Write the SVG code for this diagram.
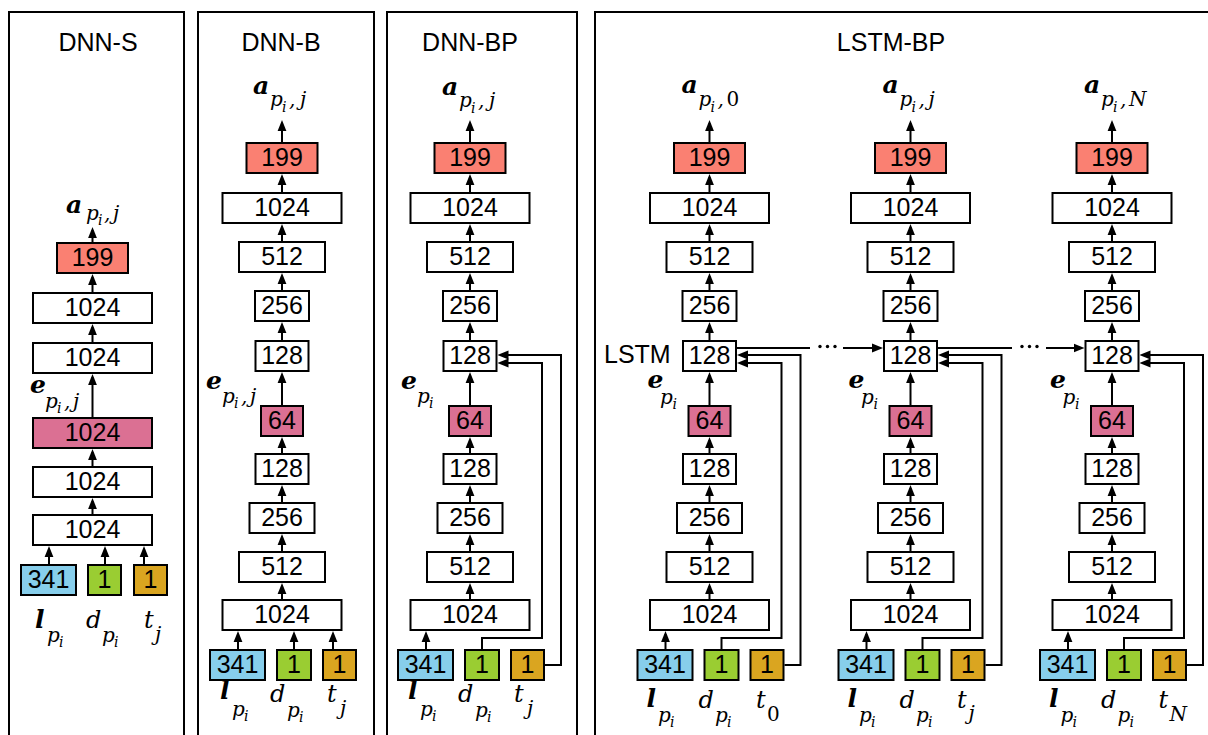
<svg xmlns="http://www.w3.org/2000/svg" width="1208" height="735" viewBox="0 0 1208 735">
  <defs>
    <style>
      .panel { fill: none; stroke: #000; stroke-width: 2; }
      .title { font-family: "Liberation Sans", Arial, sans-serif; font-size: 25px; text-anchor: middle; fill: #000; }
      .box { stroke: #000; stroke-width: 2; fill: #fff; }
      .red { fill: #fa8072; }
      .pink { fill: #db7093; }
      .blue { fill: #87ceeb; }
      .green { fill: #9acd32; }
      .gold { fill: #daa520; }
      .num { font-family: "Liberation Sans", Arial, sans-serif; font-size: 25px; text-anchor: middle; fill: #000; }
      .side { font-family: "Liberation Sans", Arial, sans-serif; font-size: 25px; fill: #000; }
      .wire { fill: none; stroke: #000; stroke-width: 2; }
      .arr { fill: none; stroke: #000; stroke-width: 2; marker-end: url(#ah); }
      .m { font-family: "DejaVu Serif", "Liberation Serif", serif; font-style: italic; fill: #000; }
      .mb { font-size: 25px; font-weight: bold; }
      .mm { font-size: 24px; }
      .ms { font-size: 20px; }
      .mss { font-size: 14px; }
      .up { font-style: normal; }
    </style>
    <marker id="ah" markerUnits="userSpaceOnUse" markerWidth="11" markerHeight="10" viewBox="0 0 11 10" refX="8" refY="5" orient="auto">
      <path d="M0,0.6 L11,5 L0,9.4 z" fill="#000"/>
    </marker>
  </defs>
  <rect width="1208" height="735" fill="#fff"/>

  <!-- panel frames and titles -->
  <g id="panels">
    <rect class="panel" x="9" y="12" width="175" height="760"/>
    <rect class="panel" x="198" y="12" width="176" height="760"/>
    <rect class="panel" x="387" y="12" width="190" height="760"/>
    <rect class="panel" x="595" y="12" width="700" height="760"/>
    <text class="title" x="98" y="51">DNN-S</text>
    <text class="title" x="281" y="51">DNN-B</text>
    <text class="title" x="470" y="51">DNN-BP</text>
    <text class="title" x="891" y="51">LSTM-BP</text>
    <text class="side" x="604" y="363">LSTM</text>
  </g>

  <!-- ============ nodes ============ -->
  <g id="nodes">
    <!-- DNN-S -->
    <g transform="translate(92.5 0)">
      <g id="s-out"><rect class="box red" x="-35.5" y="243" width="71" height="30"/><text class="num" x="0" y="266">199</text></g>
      <g id="s-h1"><rect class="box" x="-59.5" y="293" width="119" height="30"/><text class="num" x="0" y="316">1024</text></g>
      <g id="s-h2"><rect class="box" x="-59.5" y="343" width="119" height="30"/><text class="num" x="0" y="366">1024</text></g>
      <g id="s-emb"><rect class="box pink" x="-59.5" y="418" width="119" height="30"/><text class="num" x="0" y="441">1024</text></g>
      <g id="s-h3"><rect class="box" x="-59.5" y="467" width="119" height="30"/><text class="num" x="0" y="490">1024</text></g>
      <g id="s-h4"><rect class="box" x="-59.5" y="515" width="119" height="30"/><text class="num" x="0" y="538">1024</text></g>
      <g id="s-in-l"><rect class="box blue" x="-71.5" y="565" width="55" height="30"/><text class="num" x="-44" y="588">341</text></g>
      <g id="s-in-d"><rect class="box green" x="-4.5" y="565" width="33" height="30"/><text class="num" x="12" y="588">1</text></g>
      <g id="s-in-t"><rect class="box gold" x="41.5" y="565" width="33" height="30"/><text class="num" x="58" y="588">1</text></g>
    </g>

    <!-- DNN-B -->
    <g transform="translate(282 0)">
      <g id="b-out"><rect class="box red" x="-35.5" y="143" width="71" height="30"/><text class="num" x="0" y="166">199</text></g>
      <g id="b-h1"><rect class="box" x="-59.5" y="193" width="119" height="30"/><text class="num" x="0" y="216">1024</text></g>
      <g id="b-h2"><rect class="box" x="-43" y="242" width="86" height="30"/><text class="num" x="0" y="265">512</text></g>
      <g id="b-h3"><rect class="box" x="-27" y="291" width="54" height="30"/><text class="num" x="0" y="314">256</text></g>
      <g id="b-h4"><rect class="box" x="-26.5" y="341" width="53" height="30"/><text class="num" x="0" y="364">128</text></g>
      <g id="b-emb"><rect class="box pink" x="-21" y="406" width="42" height="30"/><text class="num" x="0" y="429">64</text></g>
      <g id="b-h5"><rect class="box" x="-26.5" y="454" width="53" height="30"/><text class="num" x="0" y="477">128</text></g>
      <g id="b-h6"><rect class="box" x="-32.5" y="503" width="65" height="30"/><text class="num" x="0" y="526">256</text></g>
      <g id="b-h7"><rect class="box" x="-43" y="552" width="86" height="30"/><text class="num" x="0" y="575">512</text></g>
      <g id="b-h8"><rect class="box" x="-59.5" y="600" width="119" height="30"/><text class="num" x="0" y="623">1024</text></g>
      <g id="b-in-l"><rect class="box blue" x="-72" y="650" width="55" height="30"/><text class="num" x="-44.5" y="673">341</text></g>
      <g id="b-in-d"><rect class="box green" x="-5" y="650" width="34" height="30"/><text class="num" x="12" y="673">1</text></g>
      <g id="b-in-t"><rect class="box gold" x="41" y="650" width="33" height="30"/><text class="num" x="57.5" y="673">1</text></g>
    </g>

    <!-- DNN-BP -->
    <g transform="translate(470 0)">
      <g id="bp-out"><rect class="box red" x="-35.5" y="143" width="71" height="30"/><text class="num" x="0" y="166">199</text></g>
      <g id="bp-h1"><rect class="box" x="-59.5" y="193" width="119" height="30"/><text class="num" x="0" y="216">1024</text></g>
      <g id="bp-h2"><rect class="box" x="-43" y="242" width="86" height="30"/><text class="num" x="0" y="265">512</text></g>
      <g id="bp-h3"><rect class="box" x="-27" y="291" width="54" height="30"/><text class="num" x="0" y="314">256</text></g>
      <g id="bp-h4"><rect class="box" x="-26.5" y="341" width="53" height="30"/><text class="num" x="0" y="364">128</text></g>
      <g id="bp-emb"><rect class="box pink" x="-21" y="406" width="42" height="30"/><text class="num" x="0" y="429">64</text></g>
      <g id="bp-h5"><rect class="box" x="-26.5" y="454" width="53" height="30"/><text class="num" x="0" y="477">128</text></g>
      <g id="bp-h6"><rect class="box" x="-32.5" y="503" width="65" height="30"/><text class="num" x="0" y="526">256</text></g>
      <g id="bp-h7"><rect class="box" x="-43" y="552" width="86" height="30"/><text class="num" x="0" y="575">512</text></g>
      <g id="bp-h8"><rect class="box" x="-59.5" y="600" width="119" height="30"/><text class="num" x="0" y="623">1024</text></g>
      <g id="bp-in-l"><rect class="box blue" x="-72" y="650" width="55" height="30"/><text class="num" x="-44.5" y="673">341</text></g>
      <g id="bp-in-d"><rect class="box green" x="-5" y="650" width="34" height="30"/><text class="num" x="12" y="673">1</text></g>
      <g id="bp-in-t"><rect class="box gold" x="41" y="650" width="33" height="30"/><text class="num" x="57.5" y="673">1</text></g>
    </g>

    <!-- LSTM-BP, step 0 -->
    <g transform="translate(709.5 0)">
      <g id="l0-out"><rect class="box red" x="-35.5" y="143" width="71" height="30"/><text class="num" x="0" y="166">199</text></g>
      <g id="l0-h1"><rect class="box" x="-59.5" y="193" width="119" height="30"/><text class="num" x="0" y="216">1024</text></g>
      <g id="l0-h2"><rect class="box" x="-43" y="242" width="86" height="30"/><text class="num" x="0" y="265">512</text></g>
      <g id="l0-h3"><rect class="box" x="-27" y="291" width="54" height="30"/><text class="num" x="0" y="314">256</text></g>
      <g id="l0-lstm"><rect class="box" x="-26.5" y="341" width="53" height="30"/><text class="num" x="0" y="364">128</text></g>
      <g id="l0-emb"><rect class="box pink" x="-21" y="406" width="42" height="30"/><text class="num" x="0" y="429">64</text></g>
      <g id="l0-h5"><rect class="box" x="-26.5" y="454" width="53" height="30"/><text class="num" x="0" y="477">128</text></g>
      <g id="l0-h6"><rect class="box" x="-32.5" y="503" width="65" height="30"/><text class="num" x="0" y="526">256</text></g>
      <g id="l0-h7"><rect class="box" x="-43" y="552" width="86" height="30"/><text class="num" x="0" y="575">512</text></g>
      <g id="l0-h8"><rect class="box" x="-59.5" y="600" width="119" height="30"/><text class="num" x="0" y="623">1024</text></g>
      <g id="l0-in-l"><rect class="box blue" x="-72" y="650" width="55" height="30"/><text class="num" x="-44.5" y="673">341</text></g>
      <g id="l0-in-d"><rect class="box green" x="-5" y="650" width="34" height="30"/><text class="num" x="12" y="673">1</text></g>
      <g id="l0-in-t"><rect class="box gold" x="41" y="650" width="33" height="30"/><text class="num" x="57.5" y="673">1</text></g>
    </g>

    <!-- LSTM-BP, step j -->
    <g transform="translate(910.5 0)">
      <g id="lj-out"><rect class="box red" x="-35.5" y="143" width="71" height="30"/><text class="num" x="0" y="166">199</text></g>
      <g id="lj-h1"><rect class="box" x="-59.5" y="193" width="119" height="30"/><text class="num" x="0" y="216">1024</text></g>
      <g id="lj-h2"><rect class="box" x="-43" y="242" width="86" height="30"/><text class="num" x="0" y="265">512</text></g>
      <g id="lj-h3"><rect class="box" x="-27" y="291" width="54" height="30"/><text class="num" x="0" y="314">256</text></g>
      <g id="lj-lstm"><rect class="box" x="-26.5" y="341" width="53" height="30"/><text class="num" x="0" y="364">128</text></g>
      <g id="lj-emb"><rect class="box pink" x="-21" y="406" width="42" height="30"/><text class="num" x="0" y="429">64</text></g>
      <g id="lj-h5"><rect class="box" x="-26.5" y="454" width="53" height="30"/><text class="num" x="0" y="477">128</text></g>
      <g id="lj-h6"><rect class="box" x="-32.5" y="503" width="65" height="30"/><text class="num" x="0" y="526">256</text></g>
      <g id="lj-h7"><rect class="box" x="-43" y="552" width="86" height="30"/><text class="num" x="0" y="575">512</text></g>
      <g id="lj-h8"><rect class="box" x="-59.5" y="600" width="119" height="30"/><text class="num" x="0" y="623">1024</text></g>
      <g id="lj-in-l"><rect class="box blue" x="-72" y="650" width="55" height="30"/><text class="num" x="-44.5" y="673">341</text></g>
      <g id="lj-in-d"><rect class="box green" x="-5" y="650" width="34" height="30"/><text class="num" x="12" y="673">1</text></g>
      <g id="lj-in-t"><rect class="box gold" x="41" y="650" width="33" height="30"/><text class="num" x="57.5" y="673">1</text></g>
    </g>

    <!-- LSTM-BP, step N -->
    <g transform="translate(1112 0)">
      <g id="ln-out"><rect class="box red" x="-35.5" y="143" width="71" height="30"/><text class="num" x="0" y="166">199</text></g>
      <g id="ln-h1"><rect class="box" x="-59.5" y="193" width="119" height="30"/><text class="num" x="0" y="216">1024</text></g>
      <g id="ln-h2"><rect class="box" x="-43" y="242" width="86" height="30"/><text class="num" x="0" y="265">512</text></g>
      <g id="ln-h3"><rect class="box" x="-27" y="291" width="54" height="30"/><text class="num" x="0" y="314">256</text></g>
      <g id="ln-lstm"><rect class="box" x="-26.5" y="341" width="53" height="30"/><text class="num" x="0" y="364">128</text></g>
      <g id="ln-emb"><rect class="box pink" x="-21" y="406" width="42" height="30"/><text class="num" x="0" y="429">64</text></g>
      <g id="ln-h5"><rect class="box" x="-26.5" y="454" width="53" height="30"/><text class="num" x="0" y="477">128</text></g>
      <g id="ln-h6"><rect class="box" x="-32.5" y="503" width="65" height="30"/><text class="num" x="0" y="526">256</text></g>
      <g id="ln-h7"><rect class="box" x="-43" y="552" width="86" height="30"/><text class="num" x="0" y="575">512</text></g>
      <g id="ln-h8"><rect class="box" x="-59.5" y="600" width="119" height="30"/><text class="num" x="0" y="623">1024</text></g>
      <g id="ln-in-l"><rect class="box blue" x="-72" y="650" width="55" height="30"/><text class="num" x="-44.5" y="673">341</text></g>
      <g id="ln-in-d"><rect class="box green" x="-5" y="650" width="34" height="30"/><text class="num" x="12" y="673">1</text></g>
      <g id="ln-in-t"><rect class="box gold" x="41" y="650" width="33" height="30"/><text class="num" x="57.5" y="673">1</text></g>
    </g>
  </g>

  <!-- ============ connectors ============ -->
  <g id="connectors">
    <!-- DNN-S -->
    <g transform="translate(92.5 0)">
      <path class="arr" d="M0,242 V230"/>
      <path class="arr" d="M0,292 V277"/>
      <path class="arr" d="M0,342 V327"/>
      <path class="arr" d="M0,417 V377"/>
      <path class="arr" d="M0,466 V452"/>
      <path class="arr" d="M0,514 V501"/>
      <path class="arr" d="M-43.5,564 V549"/>
      <path class="arr" d="M12.5,564 V549"/>
      <path class="arr" d="M51.5,564 V549"/>
    </g>

    <!-- DNN-B -->
    <g transform="translate(282 0)">
      <path class="arr" d="M0,142 V123"/>
      <path class="arr" d="M0,192 V177"/>
      <path class="arr" d="M0,241 V227"/>
      <path class="arr" d="M0,290 V276"/>
      <path class="arr" d="M0,340 V325"/>
      <path class="arr" d="M0,405 V375"/>
      <path class="arr" d="M0,453 V440"/>
      <path class="arr" d="M0,502 V488"/>
      <path class="arr" d="M0,551 V537"/>
      <path class="arr" d="M0,599 V586"/>
      <path class="arr" d="M-44,649 V634"/>
      <path class="arr" d="M12,649 V634"/>
      <path class="arr" d="M51,649 V634"/>
    </g>

    <!-- DNN-BP -->
    <g transform="translate(470 0)">
      <path class="arr" d="M0,142 V123"/>
      <path class="arr" d="M0,192 V177"/>
      <path class="arr" d="M0,241 V227"/>
      <path class="arr" d="M0,290 V276"/>
      <path class="arr" d="M0,340 V325"/>
      <path class="arr" d="M0,405 V375"/>
      <path class="arr" d="M0,453 V440"/>
      <path class="arr" d="M0,502 V488"/>
      <path class="arr" d="M0,551 V537"/>
      <path class="arr" d="M0,599 V586"/>
      <path class="arr" d="M-44,649 V634"/>
      <path class="arr" d="M12,649 V638 H72 V363 H30.5"/>
      <path class="arr" d="M75,665 H91 V355 H30.5"/>
    </g>

    <!-- LSTM-BP step 0 -->
    <g transform="translate(709.5 0)">
      <path class="arr" d="M0,142 V123"/>
      <path class="arr" d="M0,192 V177"/>
      <path class="arr" d="M0,241 V227"/>
      <path class="arr" d="M0,290 V276"/>
      <path class="arr" d="M0,340 V325"/>
      <path class="arr" d="M0,405 V375"/>
      <path class="arr" d="M0,453 V440"/>
      <path class="arr" d="M0,502 V488"/>
      <path class="arr" d="M0,551 V537"/>
      <path class="arr" d="M0,599 V586"/>
      <path class="arr" d="M-44,649 V634"/>
      <path class="arr" d="M12,649 V638 H72 V363 H30.5"/>
      <path class="arr" d="M75,665 H91 V355 H30.5"/>
    </g>

    <!-- LSTM-BP step j -->
    <g transform="translate(910.5 0)">
      <path class="arr" d="M0,142 V123"/>
      <path class="arr" d="M0,192 V177"/>
      <path class="arr" d="M0,241 V227"/>
      <path class="arr" d="M0,290 V276"/>
      <path class="arr" d="M0,340 V325"/>
      <path class="arr" d="M0,405 V375"/>
      <path class="arr" d="M0,453 V440"/>
      <path class="arr" d="M0,502 V488"/>
      <path class="arr" d="M0,551 V537"/>
      <path class="arr" d="M0,599 V586"/>
      <path class="arr" d="M-44,649 V634"/>
      <path class="arr" d="M12,649 V638 H72 V363 H30.5"/>
      <path class="arr" d="M75,665 H91 V355 H30.5"/>
    </g>

    <!-- LSTM-BP step N -->
    <g transform="translate(1112 0)">
      <path class="arr" d="M0,142 V123"/>
      <path class="arr" d="M0,192 V177"/>
      <path class="arr" d="M0,241 V227"/>
      <path class="arr" d="M0,290 V276"/>
      <path class="arr" d="M0,340 V325"/>
      <path class="arr" d="M0,405 V375"/>
      <path class="arr" d="M0,453 V440"/>
      <path class="arr" d="M0,502 V488"/>
      <path class="arr" d="M0,551 V537"/>
      <path class="arr" d="M0,599 V586"/>
      <path class="arr" d="M-44,649 V634"/>
      <path class="arr" d="M12,649 V638 H72 V363 H30.5"/>
      <path class="arr" d="M75,665 H91 V355 H30.5"/>
    </g>

    <!-- recurrent state passed between LSTM steps -->
    <path class="wire" d="M737,348 H810"/>
    <circle cx="820" cy="346.5" r="1.7"/>
    <circle cx="827.5" cy="346.5" r="1.7"/>
    <circle cx="835" cy="346.5" r="1.7"/>
    <path class="arr" d="M843,348 H880"/>
    <path class="wire" d="M938,348 H1012"/>
    <circle cx="1022" cy="346.5" r="1.7"/>
    <circle cx="1029.5" cy="346.5" r="1.7"/>
    <circle cx="1037" cy="346.5" r="1.7"/>
    <path class="arr" d="M1046,348 H1081.5"/>
  </g>

  <!-- ============ math labels ============ -->
  <g id="labels">
    <!-- DNN-S -->
    <text class="m"><tspan class="mb" x="66" y="213">a</tspan><tspan class="ms" x="86" y="220">p</tspan><tspan class="mss" x="98" y="225">i</tspan><tspan class="ms" x="104" y="220">,</tspan><tspan class="ms" x="113" y="220">j</tspan></text>
    <text class="m"><tspan class="mb" x="30" y="393">e</tspan><tspan class="ms" x="45" y="408">p</tspan><tspan class="mss" x="57" y="413">i</tspan><tspan class="ms" x="64" y="408">,</tspan><tspan class="ms" x="73" y="408">j</tspan></text>
    <text class="m"><tspan class="mb" x="35" y="628">l</tspan><tspan class="ms" x="47" y="642">p</tspan><tspan class="mss" x="59" y="647">i</tspan></text>
    <text class="m"><tspan class="mm" x="86" y="628">d</tspan><tspan class="ms" x="102" y="642">p</tspan><tspan class="mss" x="114" y="647">i</tspan></text>
    <text class="m"><tspan class="mm" x="144" y="628">t</tspan><tspan class="ms" x="155" y="641">j</tspan></text>

    <!-- DNN-B -->
    <g transform="translate(282 0)">
      <text class="m"><tspan class="mb" x="-29" y="94">a</tspan><tspan class="ms" x="-12" y="106">p</tspan><tspan class="mss" x="0" y="112">i</tspan><tspan class="ms" x="7" y="106">,</tspan><tspan class="ms" x="18" y="106">j</tspan></text>
      <text class="m"><tspan class="mb" x="-76" y="389">e</tspan><tspan class="ms" x="-60" y="403">p</tspan><tspan class="mss" x="-48" y="408">i</tspan><tspan class="ms" x="-41" y="403">,</tspan><tspan class="ms" x="-32" y="403">j</tspan></text>
      <text class="m"><tspan class="mb" x="-62" y="699">l</tspan><tspan class="ms" x="-50" y="716">p</tspan><tspan class="mss" x="-38" y="721">i</tspan></text>
      <text class="m"><tspan class="mm" x="-12" y="702">d</tspan><tspan class="ms" x="5" y="717">p</tspan><tspan class="mss" x="17" y="722">i</tspan></text>
      <text class="m"><tspan class="mm" x="45" y="702">t</tspan><tspan class="ms" x="58" y="715">j</tspan></text>
    </g>

    <!-- DNN-BP -->
    <g transform="translate(470 0)">
      <text class="m"><tspan class="mb" x="-28" y="95">a</tspan><tspan class="ms" x="-11" y="107">p</tspan><tspan class="mss" x="1" y="113">i</tspan><tspan class="ms" x="8" y="107">,</tspan><tspan class="ms" x="19" y="107">j</tspan></text>
      <text class="m"><tspan class="mb" x="-69" y="389">e</tspan><tspan class="ms" x="-53" y="403">p</tspan><tspan class="mss" x="-41" y="408">i</tspan></text>
      <text class="m"><tspan class="mb" x="-62" y="699">l</tspan><tspan class="ms" x="-50" y="716">p</tspan><tspan class="mss" x="-38" y="721">i</tspan></text>
      <text class="m"><tspan class="mm" x="-12" y="702">d</tspan><tspan class="ms" x="5" y="717">p</tspan><tspan class="mss" x="17" y="722">i</tspan></text>
      <text class="m"><tspan class="mm" x="44" y="702">t</tspan><tspan class="ms" x="57" y="715">j</tspan></text>
    </g>

    <!-- LSTM-BP step 0 -->
    <g transform="translate(709.5 0)">
      <text class="m"><tspan class="mb" x="-28" y="93">a</tspan><tspan class="ms" x="-11" y="106">p</tspan><tspan class="mss" x="1" y="112">i</tspan><tspan class="ms" x="8" y="106">,</tspan><tspan class="ms up" x="17" y="106">0</tspan></text>
      <text class="m"><tspan class="mb" x="-62" y="388">e</tspan><tspan class="ms" x="-49.5" y="404">p</tspan><tspan class="mss" x="-37" y="409">i</tspan></text>
      <text class="m"><tspan class="mb" x="-63" y="707">l</tspan><tspan class="ms" x="-51.5" y="722">p</tspan><tspan class="mss" x="-39.5" y="727">i</tspan></text>
      <text class="m"><tspan class="mm" x="-11" y="708">d</tspan><tspan class="ms" x="5.5" y="722">p</tspan><tspan class="mss" x="17.5" y="727">i</tspan></text>
      <text class="m"><tspan class="mm" x="46.5" y="708">t</tspan><tspan class="ms up" x="57.5" y="721">0</tspan></text>
    </g>

    <!-- LSTM-BP step j -->
    <g transform="translate(910.5 0)">
      <text class="m"><tspan class="mb" x="-28" y="93">a</tspan><tspan class="ms" x="-11" y="106">p</tspan><tspan class="mss" x="1" y="112">i</tspan><tspan class="ms" x="8" y="106">,</tspan><tspan class="ms" x="18" y="106">j</tspan></text>
      <text class="m"><tspan class="mb" x="-62" y="388">e</tspan><tspan class="ms" x="-49.5" y="404">p</tspan><tspan class="mss" x="-37" y="409">i</tspan></text>
      <text class="m"><tspan class="mb" x="-63" y="707">l</tspan><tspan class="ms" x="-51.5" y="722">p</tspan><tspan class="mss" x="-39.5" y="727">i</tspan></text>
      <text class="m"><tspan class="mm" x="-11" y="708">d</tspan><tspan class="ms" x="5.5" y="722">p</tspan><tspan class="mss" x="17.5" y="727">i</tspan></text>
      <text class="m"><tspan class="mm" x="46.5" y="708">t</tspan><tspan class="ms" x="58" y="720">j</tspan></text>
    </g>

    <!-- LSTM-BP step N -->
    <g transform="translate(1112 0)">
      <text class="m"><tspan class="mb" x="-28" y="93">a</tspan><tspan class="ms" x="-11" y="106">p</tspan><tspan class="mss" x="1" y="112">i</tspan><tspan class="ms" x="8" y="106">,</tspan><tspan class="ms" x="17" y="106">N</tspan></text>
      <text class="m"><tspan class="mb" x="-62" y="388">e</tspan><tspan class="ms" x="-49.5" y="404">p</tspan><tspan class="mss" x="-37" y="409">i</tspan></text>
      <text class="m"><tspan class="mb" x="-63" y="707">l</tspan><tspan class="ms" x="-51.5" y="722">p</tspan><tspan class="mss" x="-39.5" y="727">i</tspan></text>
      <text class="m"><tspan class="mm" x="-11" y="708">d</tspan><tspan class="ms" x="5.5" y="722">p</tspan><tspan class="mss" x="17.5" y="727">i</tspan></text>
      <text class="m"><tspan class="mm" x="46.5" y="708">t</tspan><tspan class="ms" x="57.5" y="721">N</tspan></text>
    </g>
  </g>
</svg>
